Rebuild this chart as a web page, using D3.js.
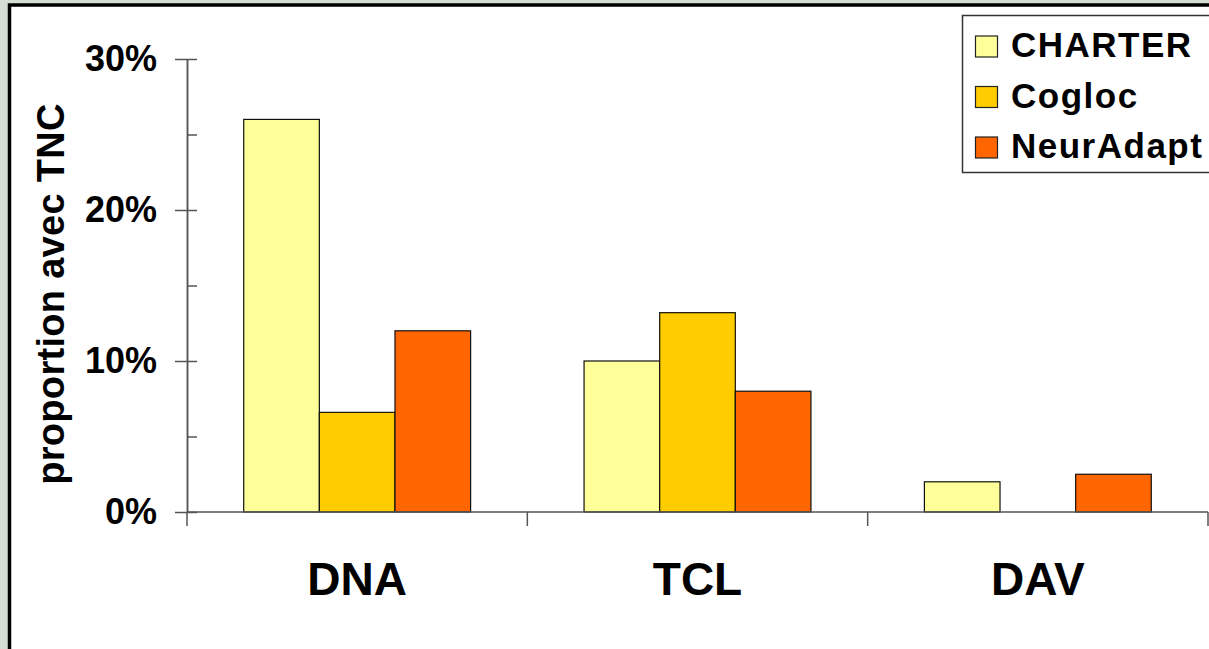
<!DOCTYPE html>
<html>
<head>
<meta charset="utf-8">
<script src="https://cdn.jsdelivr.net/npm/d3@7"></script>
<style>
  body { margin: 0; background: #d6dcd6; }
  svg { display: block; }
</style>
</head>
<body>
<svg id="chart" width="1209" height="649"></svg>
<script>
// data
var categories = ["DNA", "TCL", "DAV"];
var seriesNames = ["CHARTER", "Cogloc", "NeurAdapt"];
var seriesColors = ["#FFFF99", "#FFCC00", "#FF6600"];
var charterVals = [0.26, 0.10, 0.02];
var coglocVals = [0.066, 0.132, 0];
var neurAdaptVals = [0.12, 0.08, 0.025];
var yTicksMajor = [0, 0.1, 0.2, 0.3];
var yTicksMinor = [0, 0.05, 0.1, 0.15, 0.2, 0.25, 0.3];

var FONT = "'Liberation Sans', Arial, sans-serif";
var AXIS_COL = "#555";

var svg = d3.select("#chart");

// frame
svg.append("rect")
    .attr("x", 0).attr("y", 0)
    .attr("width", 1209).attr("height", 649)
    .attr("fill", "#d6dcd6");
svg.append("rect")
    .attr("x", 9.5).attr("y", 5)
    .attr("width", 1240).attr("height", 700)
    .attr("fill", "white")
    .attr("stroke", "black")
    .attr("stroke-width", 3.5);

var table = categories.map(function(c, i) {
    return { cat: c, vals: [charterVals[i], coglocVals[i], neurAdaptVals[i]] };
});

var x = d3.scaleBand()
    .domain(categories)
    .range([187, 1208])
    .padding(0);

var xs = d3.scaleBand()
    .domain(seriesNames)
    .range([0, x.bandwidth()])
    .paddingInner(0)
    .paddingOuter(0.75);

var y = d3.scaleLinear()
    .domain([0, 0.3])
    .range([512, 59]);

// bars
var groups = svg.selectAll(".grp")
    .data(table)
    .enter()
    .append("g")
    .attr("class", "grp")
    .attr("transform", function(d) { return "translate(" + x(d.cat) + ",0)"; });

groups.selectAll("rect")
    .data(function(d) {
        return d.vals.map(function(v, i) { return { name: seriesNames[i], v: v, i: i }; })
            .filter(function(e) { return e.v > 0; });
    })
    .enter()
    .append("rect")
    .attr("x", function(d) { return xs(d.name); })
    .attr("width", xs.bandwidth())
    .attr("y", function(d) { return y(d.v); })
    .attr("height", function(d) { return y(0) - y(d.v); })
    .attr("fill", function(d) { return seriesColors[d.i]; })
    .attr("stroke", "#111")
    .attr("stroke-width", 1.2);

// y axis: minor ticks inside, major ticks crossing with labels
svg.append("g")
    .attr("transform", "translate(187,0)")
    .call(d3.axisRight(y).tickValues(yTicksMinor).tickSize(10).tickSizeOuter(0).tickFormat(""))
    .call(function(g) { g.selectAll("line, path").attr("stroke", AXIS_COL).attr("stroke-width", 1.5); });

svg.append("g")
    .attr("transform", "translate(187,0)")
    .call(d3.axisLeft(y).tickValues(yTicksMajor).tickSize(12).tickSizeOuter(0)
        .tickPadding(18).tickFormat(d3.format(".0%")))
    .call(function(g) {
        g.selectAll("line, path").attr("stroke", AXIS_COL).attr("stroke-width", 1.5);
        g.selectAll("text")
            .attr("fill", "black")
            .style("font-family", FONT)
            .style("font-weight", "bold")
            .style("font-size", "36px");
    });

// x axis line and boundary ticks
svg.append("line")
    .attr("x1", x.range()[0]).attr("x2", x.range()[1])
    .attr("y1", y(0)).attr("y2", y(0))
    .attr("stroke", AXIS_COL).attr("stroke-width", 1.5);

var bounds = categories.map(function(c) { return x(c); }).concat([x.range()[1]]);
svg.selectAll(".xtick")
    .data(bounds)
    .enter()
    .append("line")
    .attr("class", "xtick")
    .attr("x1", function(d) { return d; }).attr("x2", function(d) { return d; })
    .attr("y1", y(0)).attr("y2", y(0) + 14)
    .attr("stroke", AXIS_COL).attr("stroke-width", 1.5);

svg.selectAll(".xlab")
    .data(categories)
    .enter()
    .append("text")
    .attr("class", "xlab")
    .attr("x", function(d) { return x(d) + x.bandwidth() / 2; })
    .attr("y", 595)
    .attr("text-anchor", "middle")
    .style("font-family", FONT)
    .style("font-weight", "bold")
    .style("font-size", "46px")
    .text(function(d) { return d; });

// y axis title
svg.append("text")
    .attr("transform", "translate(64,294) rotate(-90)")
    .attr("text-anchor", "middle")
    .style("font-family", FONT)
    .style("font-weight", "bold")
    .style("font-size", "38px")
    .style("letter-spacing", "0.3px")
    .text("proportion avec TNC");

// legend
var legend = svg.append("g");
legend.append("rect")
    .attr("x", 962.5).attr("y", 15.5)
    .attr("width", 300).attr("height", 157)
    .attr("fill", "white")
    .attr("stroke", "#333")
    .attr("stroke-width", 1.5);

var items = legend.selectAll(".leg")
    .data(seriesNames)
    .enter()
    .append("g")
    .attr("class", "leg")
    .attr("transform", function(d, i) { return "translate(0," + (i * 50.5) + ")"; });

items.append("rect")
    .attr("x", 975.5).attr("y", 36)
    .attr("width", 22).attr("height", 21)
    .attr("fill", function(d, i) { return seriesColors[i]; })
    .attr("stroke", "#222")
    .attr("stroke-width", 1.2);

items.append("text")
    .attr("x", 1011)
    .attr("y", 57)
    .style("font-family", FONT)
    .style("font-weight", "bold")
    .style("font-size", "35px")
    .style("letter-spacing", "1.5px")
    .text(function(d) { return d; });
</script>
</body>
</html>
